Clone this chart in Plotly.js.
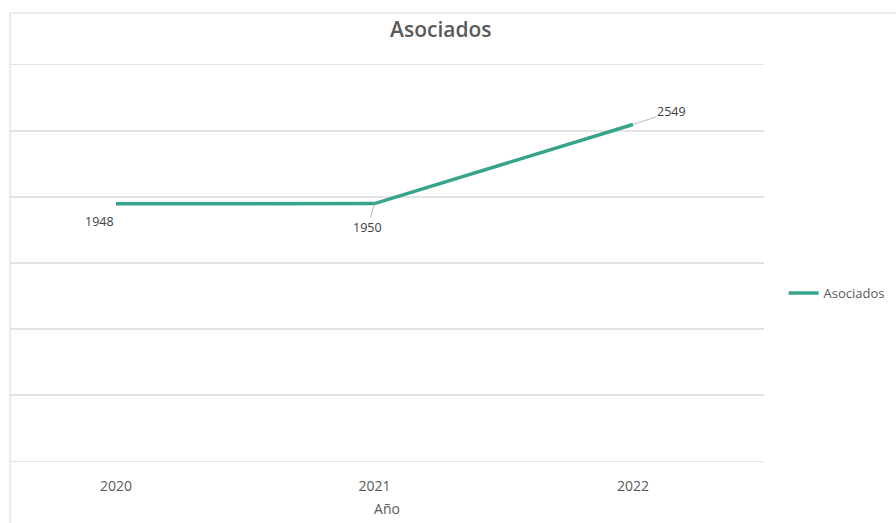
<!DOCTYPE html>
<html>
<head>
<meta charset="utf-8">
<script src="https://cdn.plot.ly/plotly-3.0.1.min.js"></script>
<style>
html,body{margin:0;padding:0;background:#fff;}
#chart{width:896px;height:523px;}
</style>
</head>
<body>
<div id="chart"></div>
<script>
const years = ["2020", "2021", "2022"];
const asociados = [1948, 1950, 2549];
const seriesName = "Asociados";
const chartTitle = "Asociados";
const xTitle = "Año";

const labelOffsets = [
  {ax: -16, ay: 18, arrow: false},
  {ax: -7, ay: 24, arrow: true},
  {ax: 39, ay: -13, arrow: true}
];

// category index used for annotation position (numeric-like category names are read as indices)
const annotations = years.map((yr, i) => ({
  x: i, y: asociados[i], xref: 'x', yref: 'y',
  text: String(asociados[i]),
  showarrow: true,
  arrowhead: 0, arrowwidth: 0.8,
  arrowcolor: labelOffsets[i].arrow ? '#a6a6a6' : 'rgba(0,0,0,0)',
  ax: labelOffsets[i].ax, ay: labelOffsets[i].ay,
  standoff: 0,
  font: {family: 'Open Sans, sans-serif', size: 12.5, color: '#404040'}
}));

const trace = {
  x: years, y: asociados, type: 'scatter', mode: 'lines',
  name: seriesName,
  line: {color: '#35A48A', width: 3.5}
};

const layout = {
  width: 896, height: 523,
  margin: {l: 10, r: 132, t: 65, b: 62, autoexpand: false},
  paper_bgcolor: '#ffffff', plot_bgcolor: '#ffffff',
  title: {text: chartTitle, x: 0.492, xanchor: 'center', y: 0.943, yanchor: 'middle',
          font: {family: 'Open Sans, sans-serif', size: 21, color: '#595959', weight: 600}},
  xaxis: {
    type: 'category', range: [-0.41, 2.507],
    showgrid: false, zeroline: false,
    showline: true, mirror: true, linecolor: '#e3e3e3', linewidth: 1.3,
    ticks: '', ticklabelstandoff: 12,
    tickfont: {family: 'Open Sans, sans-serif', size: 14, color: '#595959'},
    title: {text: xTitle, standoff: 10, font: {family: 'Open Sans, sans-serif', size: 14, color: '#595959'}}
  },
  yaxis: {
    range: [0, 3000], dtick: 500, showticklabels: false,
    showgrid: true, gridcolor: '#e3e3e3', gridwidth: 1.3,
    zeroline: false, showline: false, ticks: ''
  },
  showlegend: true,
  legend: {x: 1.026, xanchor: 'left', y: 0.424, yanchor: 'middle',
           font: {family: 'Open Sans, sans-serif', size: 13, color: '#595959'},
           bgcolor: 'rgba(0,0,0,0)', itemwidth: 30},
  annotations: annotations,
  shapes: [{
    type: 'rect', xref: 'paper', yref: 'paper',
    x0: 0, x1: 1.3, y0: -0.3, y1: 1.1313,
    line: {color: '#e6e6e6', width: 1.5}, layer: 'below'
  }]
};

Plotly.newPlot('chart', [trace], layout, {displayModeBar: false, staticPlot: true});
</script>
</body>
</html>
